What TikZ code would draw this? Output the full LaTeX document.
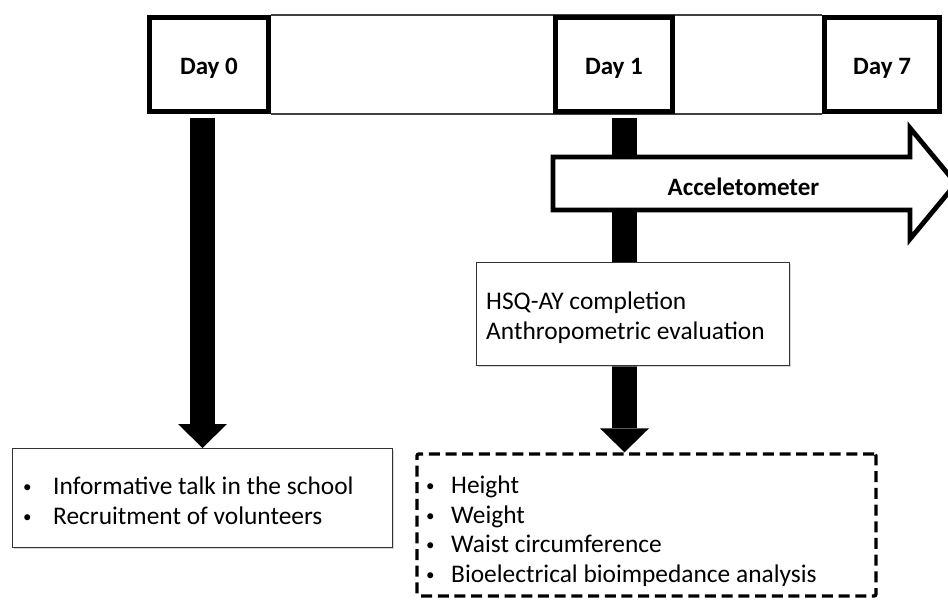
\documentclass[tikz,border=0pt]{standalone}
\usepackage{fontspec}
\setmainfont{Carlito}
\usetikzlibrary{arrows.meta,backgrounds,shadows}
\newcommand{\mybul}[1]{\makebox[#1][l]{\raisebox{2pt}{\fontsize{17}{17}\selectfont\textbullet}}}
\begin{document}
\begin{tikzpicture}[x=1pt,y=-1pt,
  daybox/.style={draw, line width=4.8pt, fill=white, minimum height=94pt, inner sep=0pt},
  daylabel/.style={font=\fontsize{25}{30}\selectfont\bfseries, inner sep=0pt, anchor=base},
  band/.style={line width=1.3pt, draw=black!75},
  plainbox/.style={draw=black!80, line width=1.4pt, fill=white, inner sep=0pt,
    drop shadow={shadow xshift=1.2pt, shadow yshift=-1.5pt, fill=black!30}},
  dashbox/.style={draw, line width=3.4pt, dash pattern=on 11pt off 5.7pt, rounded corners=2pt, inner sep=0pt},
  listtext/.style={font=\fontsize{25.4}{29.5}\selectfont, inner sep=0pt, align=left, anchor=base west},
  bigarrow/.style={line width=25pt, -{Triangle[width=49pt,length=24pt,line width=0pt]}},
  accbox/.style={draw, line width=4.8pt, fill=white, line join=miter}
]
\useasboundingbox (0,0) rectangle (948,603);
\clip (0,0) rectangle (948,603);

% day boxes
\node[daybox, minimum width=119pt] (day0) at (209,64.5) {};
\node[daybox, minimum width=117pt] (day1) at (614,64.5) {};
\node[daybox, minimum width=115pt] (day7) at (882,64.5) {};
\node[daylabel] (day0t) at ([yshift=-10pt]day0.center) {Day 0};
\node[daylabel] (day1t) at ([yshift=-10pt]day1.center) {Day 1};
\node[daylabel] (day7t) at ([yshift=-10pt]day7.center) {Day 7};

% left box
\node[plainbox, minimum width=379.6pt, minimum height=98.6pt] (talk) at (202.5,498) {};
\node[listtext] (talktxt) at (23,524)
  {\mybul{30pt}Informative talk in the school\\
   \mybul{30pt}Recruitment of volunteers};

% HSQ box
\node[plainbox, minimum width=312.6pt, minimum height=102.6pt] (hsq) at (633,314) {};
\node[listtext] (hsqtxt) at (486,339)
  {HSQ-AY completion\\Anthropometric evaluation};

% dashed measurement box
\node[dashbox, minimum width=459pt, minimum height=142pt] (meas) at (646.5,525) {};
\node[listtext] (meastxt) at (426,582)
  {\mybul{25pt}Height\\
   \mybul{25pt}Weight\\
   \mybul{25pt}Waist circumference\\
   \mybul{25pt}Bioelectrical bioimpedance analysis};

% accelerometer arrow
\draw[accbox] (553,157) -- (910,157) -- (910,128) -- (956,183.5) -- (910,239) -- (910,210) -- (553,210) -- cycle;
\node[daylabel] (acc) at (743.5,195) {Acceletometer};

\begin{scope}[on background layer]
  \draw[band] (day0.north east) -- (day7.north west);
  \draw[band] (day0.south east) -- (day7.south west);
  \draw[bigarrow] ([yshift=-4pt]day0.south -| talk.north) -- (talk.north);
  \coordinate (d1x) at ([xshift=10.5pt,yshift=-4pt]day1.south);
  \draw[bigarrow] (d1x) -- (d1x |- meas.north);
\end{scope}
\end{tikzpicture}
\end{document}
